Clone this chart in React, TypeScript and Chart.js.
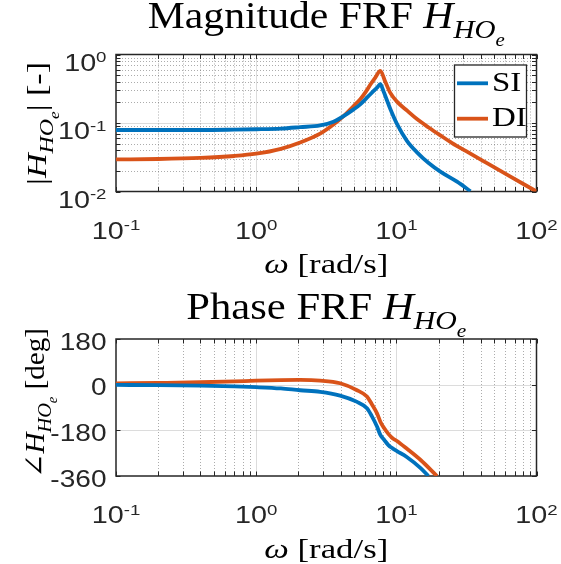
import React, { useEffect, useRef } from "react";
import { Chart, registerables } from "chart.js";
Chart.register(...registerables);

// ---------- data ----------
const seriesLabels = ["SI", "DI"];
const seriesColors = ["#0072BD", "#D95319"];

const omegaMagSI = [0.1, 0.2, 0.4, 0.7, 1.0, 1.5, 2.06, 2.86, 3.56, 4.2, 4.96, 5.53, 6.17, 6.89, 7.35, 7.69, 8.1, 8.57, 9.06, 10.1, 11.9, 14.1, 17, 20.6, 27.1, 33.8];
const magSI = [0.079, 0.079, 0.079, 0.08, 0.081, 0.083, 0.087, 0.092, 0.104, 0.126, 0.158, 0.187, 0.234, 0.294, 0.335, 0.368, 0.29, 0.215, 0.16, 0.097, 0.055, 0.037, 0.026, 0.0195, 0.0139, 0.0101];

const omegaMagDI = [0.1, 0.2, 0.4, 0.7, 1.0, 1.5, 2.06, 2.86, 3.56, 4.2, 4.96, 5.53, 6.05, 6.55, 7.08, 7.69, 8.34, 9.06, 10.1, 12, 14.1, 17, 20.6, 25, 31.7, 45, 65.2, 100];
const magDI = [0.0294, 0.0298, 0.0309, 0.033, 0.0356, 0.042, 0.052, 0.07, 0.095, 0.126, 0.177, 0.222, 0.285, 0.368, 0.46, 0.578, 0.40, 0.275, 0.205, 0.15, 0.113, 0.086, 0.066, 0.051, 0.0385, 0.0255, 0.0165, 0.01];

const omegaPhSI = [0.1, 0.2, 0.4, 0.7, 1.0, 1.5, 2.06, 2.86, 3.97, 5.2, 6.17, 6.67, 7.28, 7.69, 8.2, 8.77, 9.4, 10.1, 11.8, 14.9, 16.9];
const phaseSI = [-1, -2, -4, -7, -10, -15, -22, -28, -43, -67, -93, -123, -165, -198, -218, -238, -251, -262, -284, -329, -360];

const omegaPhDI = [0.1, 0.2, 0.4, 0.7, 1.0, 1.5, 2.06, 2.86, 3.97, 5.2, 6.17, 6.67, 7.28, 7.69, 8.2, 8.77, 9.4, 10.1, 11.8, 14.9, 19.5];
const phaseDI = [5, 7, 9.5, 13, 15.8, 18, 18.5, 16, 5.5, -21, -47, -76, -113, -146, -172, -194, -211, -222, -251, -297, -360];

const xTicks = [0.1, 1, 10, 100];
const magTicks = [0.01, 0.1, 1];
const phaseTicks = [-360, -180, 0, 180];

// ---------- drawing helpers ----------
const SERIF = '"Liberation Serif", "DejaVu Serif", serif';
const SANS = '"Liberation Sans", Arial, "DejaVu Sans", sans-serif';
const AXIS_COLOR = "#262626";

type Seg = { t: string; it?: boolean; s?: number; dy?: number };

function fontOf(sg: Seg, F: number, family: string) {
  return `${sg.it ? "italic " : ""}${(sg.s ?? 1) * F}px ${family}`;
}

function drawRich(
  ctx: CanvasRenderingContext2D,
  segs: Seg[],
  F: number,
  family: string,
  x: number,
  y: number,
  opts: { align: "left" | "center" | "right"; width?: number; sx?: number; rot?: number; color?: string }
) {
  ctx.save();
  let total = 0;
  const ws = segs.map((sg) => {
    ctx.font = fontOf(sg, F, family);
    const w = ctx.measureText(sg.t).width;
    total += w;
    return w;
  });
  const sx = opts.width ? opts.width / total : opts.sx ?? 1;
  ctx.translate(x, y);
  if (opts.rot) ctx.rotate(opts.rot);
  ctx.scale(sx, 1);
  let cx = opts.align === "center" ? -total / 2 : opts.align === "right" ? -total : 0;
  ctx.textAlign = "left";
  ctx.textBaseline = "alphabetic";
  ctx.fillStyle = opts.color ?? "#000";
  segs.forEach((sg, i) => {
    ctx.font = fontOf(sg, F, family);
    ctx.fillText(sg.t, cx, (sg.dy ?? 0) * F);
    cx += ws[i];
  });
  ctx.restore();
}

function pow10Label(ctx: CanvasRenderingContext2D, v: number, x: number, y: number, align: "center" | "right") {
  const e = Math.round(Math.log10(v));
  drawRich(ctx, [{ t: "10" }, { t: String(e), s: 0.65, dy: -0.35 }], 23, SANS, x, y, { align, sx: 1.25, color: AXIS_COLOR });
}

function minorsOf(decades: number[]) {
  const out: number[] = [];
  for (const d of decades) for (let k = 2; k <= 9; k++) out.push(k * d);
  return out;
}

type Cfg = {
  id: string;
  yLog: boolean;
  yTicks: number[];
  title: Seg[];
  titleY: number;
  titleW: number;
  ylabel: Seg[];
  ylabelX: number;
  ylabelCY: number;
  ylabelLen: number;
  xlabelY: number;
  legend: boolean;
};

function makePlugin(cfg: Cfg) {
  const minorX = minorsOf(xTicks.slice(0, -1));
  const minorY = cfg.yLog ? minorsOf(cfg.yTicks.slice(0, -1)) : [];
  return {
    id: "matlabAxes" + cfg.id,
    beforeDatasetsDraw(chart: any) {
      const { ctx, chartArea: a, scales } = chart;
      const xs = scales.x, ys = scales.y;
      ctx.save();
      const vline = (px: number) => { ctx.beginPath(); ctx.moveTo(px, a.top); ctx.lineTo(px, a.bottom); ctx.stroke(); };
      const hline = (py: number) => { ctx.beginPath(); ctx.moveTo(a.left, py); ctx.lineTo(a.right, py); ctx.stroke(); };
      // minor grid (dotted)
      ctx.lineWidth = 1;
      ctx.strokeStyle = "rgba(38,38,38,0.38)";
      ctx.setLineDash([1, 2]);
      minorX.forEach((v) => vline(Math.round(xs.getPixelForValue(v)) + 0.5));
      minorY.forEach((v) => hline(Math.round(ys.getPixelForValue(v)) + 0.5));
      // major grid (solid, light)
      ctx.setLineDash([]);
      ctx.strokeStyle = "rgba(38,38,38,0.16)";
      xTicks.slice(1, -1).forEach((v) => vline(Math.round(xs.getPixelForValue(v)) + 0.5));
      cfg.yTicks.slice(1, -1).forEach((v) => hline(Math.round(ys.getPixelForValue(v)) + 0.5));
      // box
      ctx.strokeStyle = AXIS_COLOR;
      ctx.lineWidth = 1.5;
      ctx.strokeRect(a.left, a.top, a.right - a.left, a.bottom - a.top);
      // inward ticks
      const tl = 4.5;
      ctx.lineWidth = 1;
      const xt = [...xTicks, ...minorX];
      xt.forEach((v) => {
        const px = Math.round(xs.getPixelForValue(v)) + 0.5;
        ctx.beginPath();
        ctx.moveTo(px, a.top); ctx.lineTo(px, a.top + tl);
        ctx.moveTo(px, a.bottom); ctx.lineTo(px, a.bottom - tl);
        ctx.stroke();
      });
      const yt = [...cfg.yTicks, ...minorY];
      yt.forEach((v) => {
        const py = Math.round(ys.getPixelForValue(v)) + 0.5;
        ctx.beginPath();
        ctx.moveTo(a.left, py); ctx.lineTo(a.left + tl, py);
        ctx.moveTo(a.right, py); ctx.lineTo(a.right - tl, py);
        ctx.stroke();
      });
      ctx.restore();
    },
    afterDatasetsDraw(chart: any) {
      const { ctx, chartArea: a, scales } = chart;
      const xs = scales.x, ys = scales.y;
      // x tick labels
      xTicks.forEach((v) => pow10Label(ctx, v, xs.getPixelForValue(v), a.bottom + 47, "center"));
      // y tick labels
      cfg.yTicks.forEach((v) => {
        const py = ys.getPixelForValue(v);
        if (cfg.yLog) pow10Label(ctx, v, a.left - 9.5, py + 16, "right");
        else drawRich(ctx, [{ t: String(v) }], 23, SANS, a.left - 9.5, py + 10.5, { align: "right", sx: 1.22, color: AXIS_COLOR });
      });
      const cx = (a.left + a.right) / 2;
      // title
      drawRich(ctx, cfg.title, 37, SERIF, cx, cfg.titleY, { align: "center", width: cfg.titleW });
      // x label
      drawRich(ctx, [{ t: "ω", it: true }, { t: " [rad/s]" }], 27, SERIF, cx, cfg.xlabelY, { align: "center", width: 124 });
      // y label
      drawRich(ctx, cfg.ylabel, 28, SERIF, cfg.ylabelX, cfg.ylabelCY, { align: "center", width: cfg.ylabelLen, rot: -Math.PI / 2 });
      // legend
      if (cfg.legend) {
        ctx.save();
        const bx = 454.5, by = 65, bw = 72, bh = 72;
        ctx.fillStyle = "#fff";
        ctx.fillRect(bx, by, bw, bh);
        ctx.strokeStyle = AXIS_COLOR;
        ctx.lineWidth = 1.3;
        ctx.strokeRect(bx, by, bw, bh);
        chart.data.datasets.forEach((ds: any, i: number) => {
          const ly = by + 18.3 + i * 35.4;
          ctx.strokeStyle = ds.borderColor;
          ctx.lineWidth = 3.8;
          ctx.beginPath();
          ctx.moveTo(bx + 2.5, ly);
          ctx.lineTo(bx + 33.5, ly);
          ctx.stroke();
          drawRich(ctx, [{ t: ds.label }], 27, SERIF, bx + 37.5, ly + 7.6, { align: "left", sx: 1.22 });
        });
        ctx.restore();
      }
    },
  };
}

function pts(xs: number[], ys: number[]) {
  return xs.map((x, i) => ({ x, y: ys[i] }));
}

function makeConfig(
  sets: { xs: number[]; ys: number[] }[],
  yType: "logarithmic" | "linear",
  yMin: number,
  yMax: number,
  topPad: number,
  bottomH: number,
  plugin: any
): any {
  return {
    type: "line",
    data: {
      datasets: sets.map((s, i) => ({
        label: seriesLabels[i],
        data: pts(s.xs, s.ys),
        borderColor: seriesColors[i],
        backgroundColor: seriesColors[i],
        borderWidth: 3.8,
        pointRadius: 0,
        fill: false,
        cubicInterpolationMode: "monotone",
      })),
    },
    options: {
      responsive: false,
      animation: false,
      events: [],
      layout: { padding: { top: topPad, right: 24.5, left: 0, bottom: 0 } },
      plugins: { legend: { display: false }, tooltip: { enabled: false }, title: { display: false } },
      scales: {
        x: {
          type: "logarithmic",
          min: 0.1,
          max: 100,
          ticks: { display: false },
          grid: { display: false },
          border: { display: false },
          afterFit: (s: any) => { s.height = bottomH; },
        },
        y: {
          type: yType,
          min: yMin,
          max: yMax,
          ticks: { display: false },
          grid: { display: false },
          border: { display: false },
          afterFit: (s: any) => { s.width = 116; },
        },
      },
    },
    plugins: [plugin],
  };
}

const HSub: Seg[] = [
  { t: "H", it: true },
  { t: "HO", it: true, s: 0.7, dy: 0.27 },
  { t: "e", it: true, s: 0.5, dy: 0.49 },
];

export default function App() {
  const c1 = useRef<HTMLCanvasElement>(null);
  const c2 = useRef<HTMLCanvasElement>(null);

  useEffect(() => {
    document.body.style.margin = "0";
    const p1 = makePlugin({
      id: "mag",
      yLog: true,
      yTicks: magTicks,
      title: [{ t: "Magnitude FRF " }, ...HSub],
      titleY: 28,
      titleW: 357,
      ylabel: [
        { t: "|" },
        { t: "H", it: true },
        { t: "HO", it: true, s: 0.7, dy: 0.25 },
        { t: "e", it: true, s: 0.5, dy: 0.45 },
        { t: "| [-]" },
      ],
      ylabelX: 46,
      ylabelCY: 123.4,
      ylabelLen: 123,
      xlabelY: 273,
      legend: true,
    });
    const p2 = makePlugin({
      id: "phase",
      yLog: false,
      yTicks: phaseTicks,
      title: [{ t: "Phase FRF " }, ...HSub],
      titleY: 37.3,
      titleW: 280,
      ylabel: [
        { t: "∠" },
        { t: "H", it: true },
        { t: "HO", it: true, s: 0.7, dy: 0.25 },
        { t: "e", it: true, s: 0.5, dy: 0.45 },
        { t: " [deg]" },
      ],
      ylabelX: 44,
      ylabelCY: 121,
      ylabelLen: 150,
      xlabelY: 275.5,
      legend: false,
    });
    const ch1 = new Chart(
      c1.current!,
      makeConfig(
        [{ xs: omegaMagSI, ys: magSI }, { xs: omegaMagDI, ys: magDI }],
        "logarithmic", magTicks[0], magTicks[magTicks.length - 1], 54.5, 282 - 191.5, p1
      )
    );
    const ch2 = new Chart(
      c2.current!,
      makeConfig(
        [{ xs: omegaPhSI, ys: phaseSI }, { xs: omegaPhDI, ys: phaseDI }],
        "linear", phaseTicks[0], phaseTicks[phaseTicks.length - 1], 57, 282 - 194, p2
      )
    );
    return () => {
      ch1.destroy();
      ch2.destroy();
    };
  }, []);

  return (
    <div style={{ position: "relative", width: 561, height: 564, background: "#fff" }}>
      <canvas ref={c1} width={561} height={282} style={{ position: "absolute", left: 0, top: 0, display: "block" }} />
      <canvas ref={c2} width={561} height={282} style={{ position: "absolute", left: 0, top: 282, display: "block" }} />
    </div>
  );
}
